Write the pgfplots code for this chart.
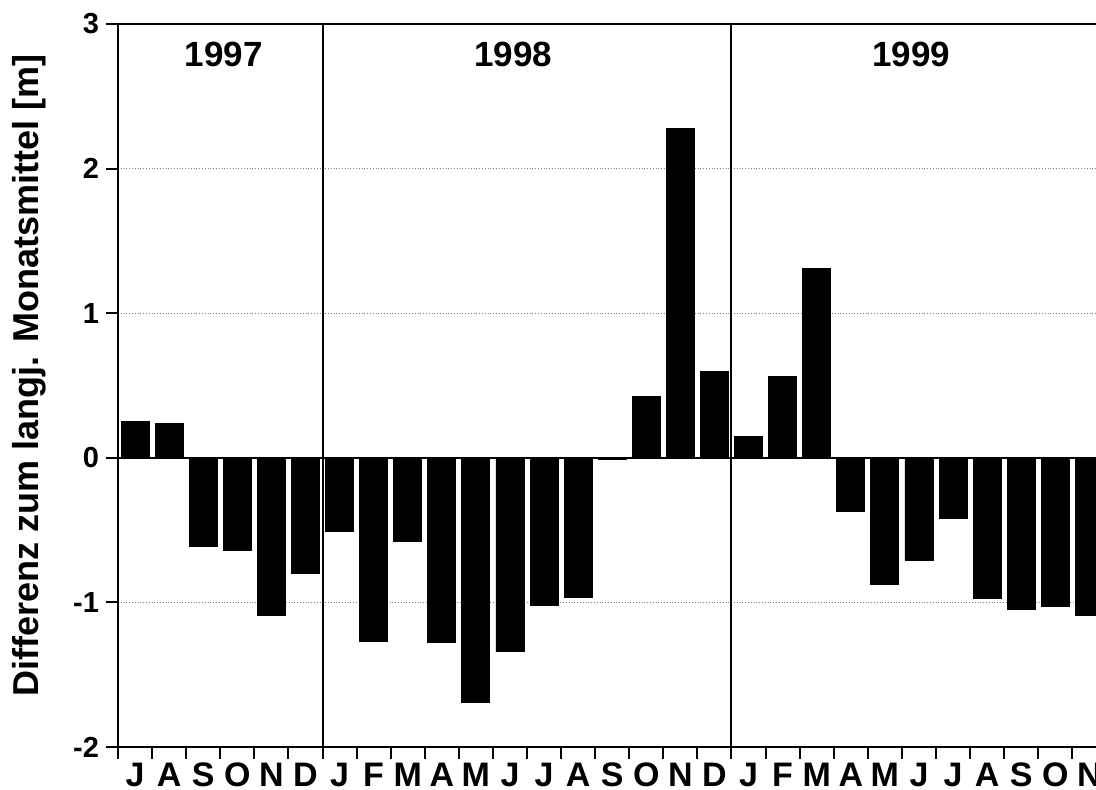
\documentclass[border=0pt]{standalone}
\usepackage{pgfplots}
\pgfplotsset{compat=1.18}
\usepackage{fontspec}
\setmainfont{Liberation Sans}

\begin{document}
\begin{tikzpicture}
\useasboundingbox (0,0) rectangle (548pt,395pt);
\clip (0,0) rectangle (548pt,395pt);
\begin{axis}[
  at={(59pt,21.5pt)}, anchor=south west,
  scale only axis, width=494.2pt, height=361.5pt,
  xmin=-0.5, xmax=28.5, ymin=-2, ymax=3,
  axis line style={line width=1pt},
  tick style={line width=1pt, black},
  tick align=outside, major tick length=6pt,
  xtick pos=bottom, ytick pos=left,
  xtick={-0.5,0.5,...,28.5},
  x tick label as interval,
  xticklabels={J,A,S,O,N,D,J,F,M,A,M,J,J,A,S,O,N,D,J,F,M,A,M,J,J,A,S,O,N},
  x tick label style={font=\fontsize{17}{20}\selectfont\bfseries, yshift=1.5pt},
  ytick={-2,-1,0,1,2,3},
  y tick label style={font=\fontsize{14.5}{17}\selectfont\bfseries},
  /pgf/number format/assume math mode=true,
  ymajorgrids, major grid style={densely dotted, gray, line width=0.6pt},
  ylabel={Differenz zum langj. Monatsmittel [m]},
  ylabel style={at={(axis description cs:-0.09,0.514)}, anchor=center, font=\fontsize{18}{21}\selectfont\bfseries},
  ybar, bar width=14pt,
]
\addplot[fill=black, draw=black] coordinates {
  (0,0.25) (1,0.24) (2,-0.615) (3,-0.64) (4,-1.09) (5,-0.80)
  (6,-0.51) (7,-1.27) (8,-0.58) (9,-1.28) (10,-1.69) (11,-1.34)
  (12,-1.02) (13,-0.965) (14,-0.01) (15,0.425) (16,2.275) (17,0.595)
  (18,0.145) (19,0.565) (20,1.31) (21,-0.37) (22,-0.875) (23,-0.71)
  (24,-0.42) (25,-0.97) (26,-1.045) (27,-1.025) (28,-1.09)
};
\draw[line width=1pt] (axis cs:-0.5,0) -- (axis cs:28.5,0);
\draw[line width=1pt] (axis cs:5.5,-2) -- (axis cs:5.5,3);
\draw[line width=1pt] (axis cs:17.5,-2) -- (axis cs:17.5,3);
\node[font=\fontsize{17.5}{21}\selectfont\bfseries] at (axis cs:2.6,2.79) {1997};
\node[font=\fontsize{17.5}{21}\selectfont\bfseries] at (axis cs:11.1,2.79) {1998};
\node[font=\fontsize{17.5}{21}\selectfont\bfseries] at (axis cs:22.77,2.79) {1999};
\end{axis}
\end{tikzpicture}
\end{document}
